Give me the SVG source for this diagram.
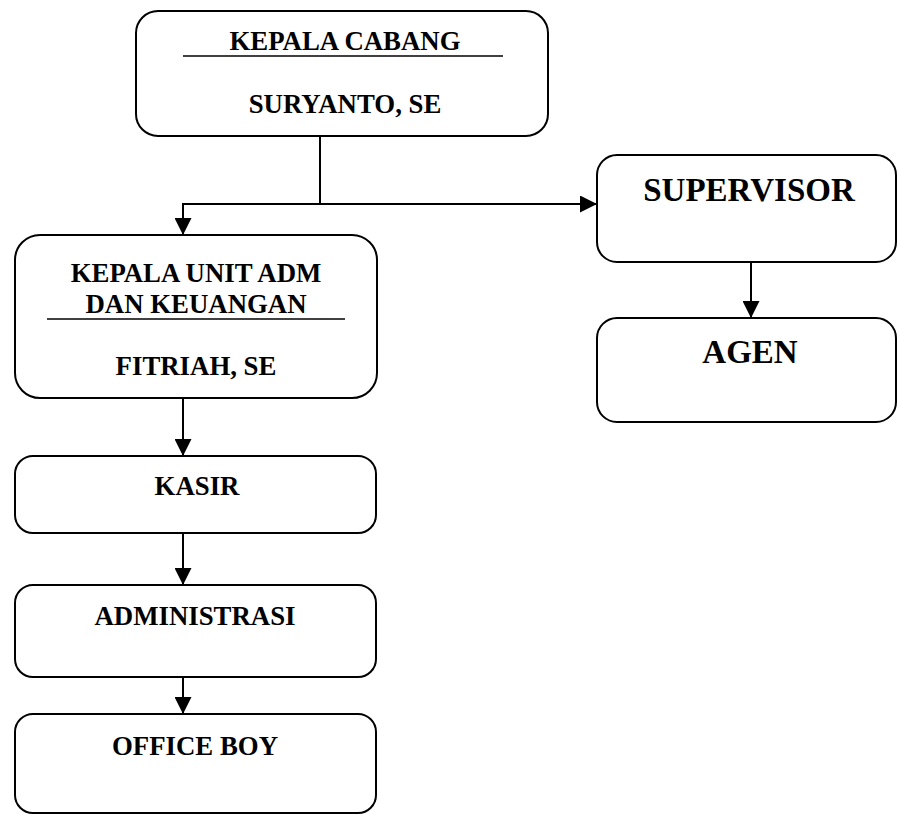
<svg xmlns="http://www.w3.org/2000/svg" width="897" height="814" viewBox="0 0 897 814">
<style>
.box{fill:#fff;stroke:#000;stroke-width:2}
.t{font-family:"Liberation Serif","Times New Roman",serif;font-weight:bold;font-size:26.8px;text-anchor:middle;fill:#000}
.big{font-size:33px}
.rule{stroke:#000;stroke-width:1.5}
.con{fill:none;stroke:#000;stroke-width:2}
</style>
<defs>
<marker id="ah" viewBox="0 0 16 17" refX="17" refY="8.5" markerWidth="16" markerHeight="17" markerUnits="userSpaceOnUse" orient="auto">
<path d="M0,0 L17,8.5 L0,17 Z" fill="#000"/>
</marker>
</defs>
<g id="connectors">
<polyline class="con" points="320,136 320,204 183,204 183,235" marker-end="url(#ah)"/>
<polyline class="con" points="320,204 597,204" marker-end="url(#ah)"/>
<line class="con" x1="751" y1="262" x2="751" y2="318" marker-end="url(#ah)"/>
<line class="con" x1="183" y1="398" x2="183" y2="456" marker-end="url(#ah)"/>
<line class="con" x1="183" y1="533" x2="183" y2="585" marker-end="url(#ah)"/>
<line class="con" x1="183" y1="677" x2="183" y2="714" marker-end="url(#ah)"/>
</g>
<g id="kepala-cabang">
<rect class="box" x="136" y="11" width="412" height="125" rx="22"/>
<text class="t" x="345" y="50">KEPALA CABANG</text>
<line class="rule" x1="183" y1="56" x2="503" y2="56"/>
<text class="t" x="345" y="113">SURYANTO, SE</text>
</g>
<g id="supervisor">
<rect class="box" x="597" y="155" width="299" height="107" rx="20"/>
<text class="t big" x="749" y="201">SUPERVISOR</text>
</g>
<g id="agen">
<rect class="box" x="597" y="318" width="299" height="104" rx="20"/>
<text class="t big" x="750" y="363">AGEN</text>
</g>
<g id="kepala-unit">
<rect class="box" x="15" y="235" width="362" height="163" rx="25"/>
<text class="t" x="196" y="282">KEPALA UNIT ADM</text>
<text class="t" x="196" y="313">DAN KEUANGAN</text>
<line class="rule" x1="47" y1="319" x2="345" y2="319"/>
<text class="t" x="196" y="375">FITRIAH, SE</text>
</g>
<g id="kasir">
<rect class="box" x="15" y="456" width="361" height="77" rx="18"/>
<text class="t" x="197" y="495">KASIR</text>
</g>
<g id="administrasi">
<rect class="box" x="15" y="585" width="361" height="92" rx="18"/>
<text class="t" x="195" y="625">ADMINISTRASI</text>
</g>
<g id="office-boy">
<rect class="box" x="15" y="714" width="361" height="99" rx="18"/>
<text class="t" x="195" y="755">OFFICE BOY</text>
</g>
</svg>
